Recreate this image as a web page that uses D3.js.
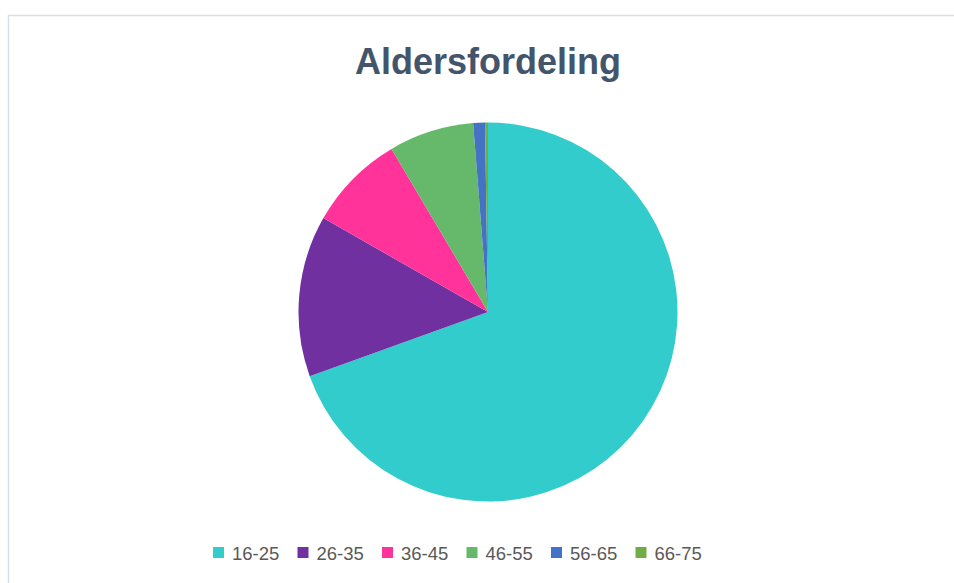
<!DOCTYPE html>
<html>
<head>
<meta charset="utf-8">
<script src="https://cdn.jsdelivr.net/npm/d3@7"></script>
<style>
    body {
        margin: 0;
        background: #fff;
    }
    svg text {
        font-family: "Liberation Sans", Arial, sans-serif;
    }
    .title {
        font-size: 36px;
        font-weight: bold;
        fill: #44546a;
    }
    .legend text {
        font-size: 18.5px;
        fill: #595959;
    }
</style>
</head>
<body>
<script>

var width = 954,
    height = 583;

// age groups and counts
var groups = ["16-25", "26-35", "36-45", "46-55", "56-65", "66-75"];
var counts = [278, 55, 33, 29, 4, 1];
var colors = ["#33cccc", "#7030a0", "#ff3399", "#66b96a", "#4472c4", "#70ad47"];

var data = groups.map(function(g, i) { return {group: g, count: counts[i]}; });

var svg = d3.select("body").append("svg")
    .attr("width", width)
    .attr("height", height);

// chart frame
svg.append("rect")
    .attr("x", 8.5)
    .attr("y", 15.5)
    .attr("width", 980)
    .attr("height", 620)
    .style("fill", "#fff")
    .style("stroke", "#d9dee6")
    .style("stroke-width", 1.5);

svg.append("text")
    .attr("class", "title")
    .attr("x", 488)
    .attr("y", 74)
    .attr("text-anchor", "middle")
    .text("Aldersfordeling");

var color = d3.scaleOrdinal()
    .domain(groups)
    .range(colors);

var pie = d3.pie()
    .sort(null)
    .value(function(d) { return d.count; });

var arc = d3.arc()
    .innerRadius(0)
    .outerRadius(189.5);

var g = svg.append("g")
    .attr("transform", "translate(488,312)");

g.selectAll("path")
    .data(pie(data))
    .enter().append("path")
    .attr("d", arc)
    .style("fill", function(d) { return color(d.data.group); });

// legend along the bottom
var x0 = 213, step = 84.5;

var legend = svg.selectAll("g.legend")
    .data(groups)
    .enter().append("g")
    .attr("class", "legend")
    .attr("transform", function(d, i) { return "translate(" + (x0 + i * step) + ",547)"; });

legend.append("rect")
    .attr("width", 11)
    .attr("height", 11)
    .style("fill", function(d) { return color(d); });

legend.append("text")
    .attr("x", 19)
    .attr("y", 12.5)
    .text(function(d) { return d; });

</script>
</body>
</html>
